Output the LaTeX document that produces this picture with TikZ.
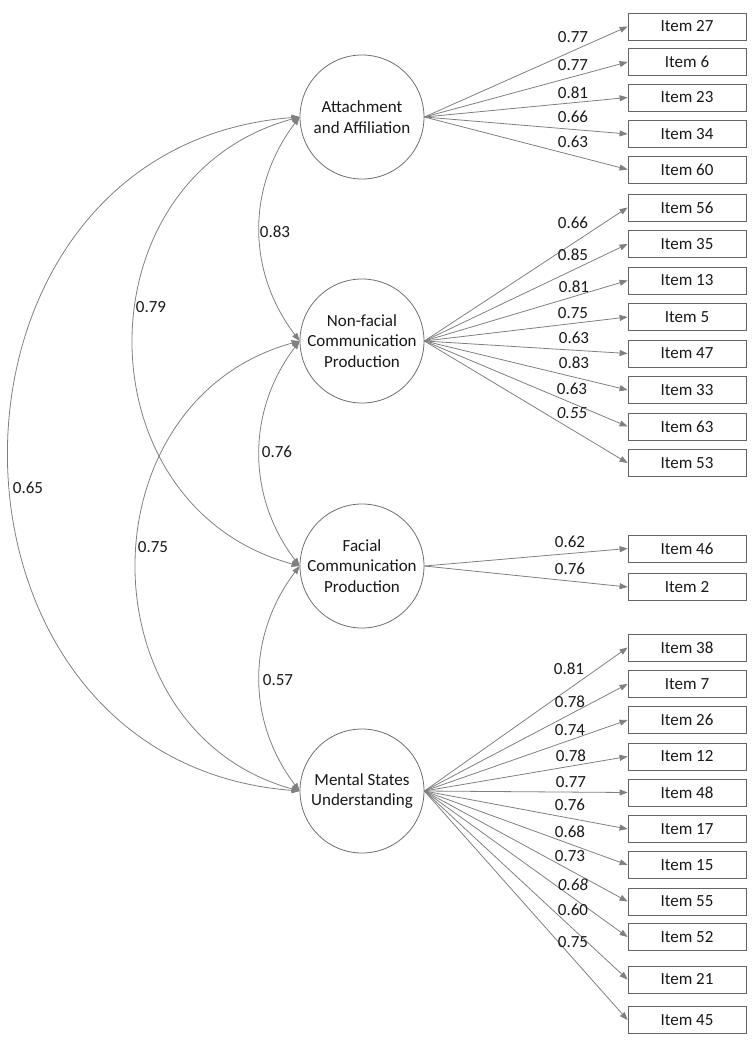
\documentclass[tikz,border=0pt]{standalone}
\usepackage{fontspec}
\setmainfont{Carlito}
\usetikzlibrary{arrows.meta}
\definecolor{linegray}{RGB}{128,128,128}
\definecolor{circgray}{RGB}{110,110,110}
\definecolor{boxgray}{RGB}{100,100,100}
\definecolor{txt}{RGB}{25,25,25}
\begin{document}
\begin{tikzpicture}[x=1pt,y=-1pt,
  lat/.style={circle, draw=circgray, line width=0.8pt, minimum size=124pt, inner sep=0pt, align=center, font=\fontsize{17}{20.5}\selectfont, text=txt},
  itembox/.style={draw=boxgray, line width=0.8pt, minimum width=118pt, minimum height=27pt, inner sep=0pt, font=\fontsize{17}{20}\selectfont, text=txt},
  load/.style={draw=linegray, line width=0.8pt, -{Triangle[length=8pt,width=6pt]}},
  cov/.style={draw=linegray, line width=0.8pt, {Triangle[length=8pt,width=6pt]}-{Triangle[length=8pt,width=6pt]}},
  lbl/.style={inner sep=0pt, font=\fontsize{17}{20}\selectfont, text=txt},
  ilbl/.style={lbl, font=\fontsize{17}{20}\selectfont\itshape}
]
\useasboundingbox (0,0) rectangle (752,1050);

% latent factors
\node[lat] (att) at (362,117) {Attachment\\and Affiliation};
\node[lat] (non) at (362,341) {Non-facial\\Communication\\Production};
\node[lat] (fac) at (362,566) {Facial\\Communication\\Production};
\node[lat] (men) at (362,791) {Mental States\\Understanding};

% items
\foreach \n/\y in {27/26.5, 6/62, 23/97.5, 34/134, 60/169.5,
  56/207.5, 35/244, 13/280.5, 5/317, 47/353.5, 33/390, 63/426.5, 53/463,
  46/548.5, 2/587,
  38/647.5, 7/684, 26/720, 12/756.5, 48/792.5, 17/829, 15/865, 55/901.5, 52/937, 21/979.5, 45/1020}
  \node[itembox] (i\n) at (687,\y) {Item \n};

% loadings
\foreach \n in {27,6,23,34,60} \draw[load] (att.east) -- (i\n.west);
\foreach \n in {56,35,13,5,47,33,63,53} \draw[load] (non.east) -- (i\n.west);
\foreach \n in {46,2} \draw[load] (fac.east) -- (i\n.west);
\foreach \n in {38,7,26,12,48,17,15,55,52,21,45} \draw[load] (men.east) -- (i\n.west);

% loading labels
\node[lbl] (la1) at (573,37) {0.77};
\node[lbl] (la2) at (573,65) {0.77};
\node[lbl] (la3) at (573,93) {0.81};
\node[lbl] (la4) at (573,117) {0.66};
\node[lbl] (la5) at (573,142) {0.63};

\node[lbl] (lb1) at (573,223) {0.66};
\node[lbl] (lb2) at (573,255) {0.85};
\node[lbl] (lb3) at (574,287) {0.81};
\node[lbl] (lb4) at (573,313) {0.75};
\node[lbl] (lb5) at (574,338) {0.63};
\node[lbl] (lb6) at (574,363) {0.83};
\node[lbl] (lb7) at (572,389) {0.63};
\node[ilbl] (lb8) at (572,413) {0.55};

\node[lbl] (lc1) at (570,542) {0.62};
\node[lbl] (lc2) at (570,569) {0.76};

\node[lbl] (ld1) at (569,669) {0.81};
\node[lbl] (ld2) at (570,702) {0.78};
\node[lbl] (ld3) at (570,730) {0.74};
\node[lbl] (ld4) at (571,756) {0.78};
\node[lbl] (ld5) at (571,782) {0.77};
\node[lbl] (ld6) at (570,805) {0.76};
\node[lbl] (ld7) at (570,832) {0.68};
\node[lbl] (ld8) at (570,856) {0.73};
\node[ilbl] (ld9) at (573,885) {0.68};
\node[lbl] (ld10) at (573,910) {0.60};
\node[lbl] (ld11) at (573,942) {0.75};

% covariances
\draw[cov] (att.west) .. controls +(-53,70) and +(-53,-70) .. (non.west);
\draw[cov] (non.west) .. controls +(-53,70) and +(-53,-70) .. (fac.west);
\draw[cov] (fac.west) .. controls +(-53,70) and +(-53,-70) .. (men.west);
\draw[cov] (att.west) .. controls +(-221,60) and +(-221,-60) .. (fac.west);
\draw[cov] (non.west) .. controls +(-217,60) and +(-217,-60) .. (men.west);
\draw[cov] (att.west) .. controls +(-387,30) and +(-387,-30) .. (men.west);

\node[lbl] (c1) at (275,232) {0.83};
\node[lbl] (c2) at (277,452) {0.76};
\node[lbl] (c3) at (278,680) {0.57};
\node[lbl] (c4) at (151,307) {0.79};
\node[lbl] (c5) at (153,547) {0.75};
\node[lbl] (c6) at (28,488) {0.65};
\end{tikzpicture}
\end{document}
